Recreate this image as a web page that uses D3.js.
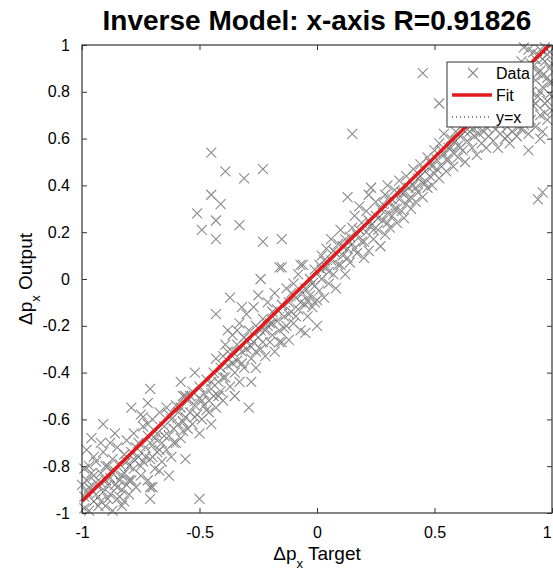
<!DOCTYPE html>
<html><head><meta charset="utf-8">
<script src="https://cdn.jsdelivr.net/npm/d3@7"></script>
<style>body{margin:0;background:#fff}svg{display:block}text{font-family:"Liberation Sans",Arial,Helvetica,sans-serif}</style>
</head><body><svg id="c" width="553" height="575"></svg>
<script>
const titleText = "Inverse Model: x-axis R=0.91826";
const xTicks = [-1, -0.5, 0, 0.5, 1];
const yTicks = [-1, -0.8, -0.6, -0.4, -0.2, 0, 0.2, 0.4, 0.6, 0.8, 1];
const fitLine = [[-1, -0.95], [1, 1.01]];
const identityLine = [[-1, -1], [1, 1]];
const legendLabels = ["Data", "Fit", "y=x"];

const dataA = [[-0.99,-0.93],[-0.98,-0.86],[-0.97,-0.99],[-0.97,-0.80],[-0.96,-0.90],[-0.95,-0.84],[-0.95,-0.95],[-0.94,-0.78],[-0.93,-0.88],[-0.93,-0.97],[-0.92,-0.83],[-0.91,-0.91],[-0.91,-0.74],[-0.90,-0.86],[-0.90,-0.97],[-0.89,-0.80],[-0.88,-0.92],[-0.88,-0.85],[-0.87,-0.77],[-0.87,-0.99],[-0.86,-0.88],[-0.86,-0.82],[-0.85,-0.94],[-0.85,-0.72],[-0.84,-0.86],[-0.84,-0.79],[-0.83,-0.90],[-0.83,-0.97],[-0.82,-0.83],[-0.82,-0.75],[-0.81,-0.88],[-0.81,-0.69],[-0.80,-0.80],[-0.80,-0.92],[-0.99,-0.81],[-0.98,-0.73],[-0.96,-0.68],[-0.94,-0.87],[-0.92,-0.70],[-0.89,-0.88],[-0.86,-0.66],[-0.84,-0.93],[-0.79,-0.86],[-0.97,-0.89],[-0.91,-0.62],
  [-1.00,-0.88],[-0.99,-0.98],[-0.98,-0.91],[-0.96,-0.83],[-0.95,-0.76],[-0.94,-0.92],[-0.92,-0.95],[-0.92,-0.87],[-0.90,-0.80],[-0.89,-0.94],[-0.88,-0.70],[-0.87,-0.83],[-0.85,-0.89],[-0.83,-0.84],[-0.82,-0.95],[-0.81,-0.78],[-0.80,-0.86]];
const dataB = [[-0.79,-0.74],[-0.78,-0.81],[-0.78,-0.66],[-0.77,-0.89],[-0.76,-0.76],[-0.76,-0.70],[-0.75,-0.84],[-0.74,-0.63],[-0.74,-0.78],[-0.73,-0.72],[-0.72,-0.86],[-0.72,-0.67],[-0.71,-0.77],[-0.70,-0.60],[-0.70,-0.71],[-0.69,-0.81],[-0.68,-0.66],[-0.68,-0.74],[-0.67,-0.57],[-0.66,-0.70],[-0.66,-0.78],[-0.65,-0.63],[-0.64,-0.73],[-0.64,-0.55],[-0.63,-0.67],[-0.62,-0.60],[-0.62,-0.76],[-0.61,-0.64],[-0.60,-0.70],[-0.60,-0.54],[-0.75,-0.58],[-0.71,-0.89],[-0.63,-0.84],[-0.79,-0.55],[-0.71,-0.47],[-0.56,-0.50],[-0.57,-0.65],[-0.67,-0.82],[-0.70,-0.89],[-0.71,-0.94],[-0.72,-0.53],[-0.74,-0.59],[-0.56,-0.77],[-0.50,-0.94],
  [-0.78,-0.77],[-0.77,-0.72],[-0.75,-0.80],[-0.73,-0.76],[-0.72,-0.62],[-0.70,-0.76],[-0.69,-0.68],[-0.67,-0.73],[-0.65,-0.67],[-0.63,-0.58],[-0.61,-0.70]];
const dataC = [[-0.59,-0.62],[-0.58,-0.55],[-0.58,-0.68],[-0.57,-0.50],[-0.56,-0.59],[-0.55,-0.64],[-0.55,-0.52],[-0.54,-0.57],[-0.53,-0.48],[-0.53,-0.62],[-0.52,-0.54],[-0.51,-0.58],[-0.50,-0.46],[-0.50,-0.51],[-0.49,-0.60],[-0.48,-0.49],[-0.48,-0.54],[-0.47,-0.43],[-0.46,-0.52],[-0.46,-0.57],[-0.45,-0.47],[-0.44,-0.40],[-0.44,-0.50],[-0.43,-0.55],[-0.42,-0.44],[-0.41,-0.48],[-0.41,-0.38],[-0.40,-0.52],[-0.52,-0.40],[-0.58,-0.44],[-0.50,-0.66],[-0.45,-0.62],[-0.43,-0.34],
  [-0.59,-0.57],[-0.57,-0.61],[-0.54,-0.50],[-0.52,-0.59],[-0.49,-0.52],[-0.47,-0.56],[-0.45,-0.44],[-0.42,-0.50]];
const dataD = [[-0.40,-0.33],[-0.39,-0.42],[-0.39,-0.28],[-0.38,-0.37],[-0.37,-0.46],[-0.37,-0.08],[-0.36,-0.31],[-0.36,-0.24],[-0.35,-0.40],[-0.34,-0.28],[-0.34,-0.35],[-0.33,-0.19],[-0.33,-0.44],[-0.32,-0.31],[-0.31,-0.25],[-0.31,-0.38],[-0.30,-0.15],[-0.30,-0.30],[-0.29,-0.55],[-0.29,-0.22],[-0.28,-0.34],[-0.27,-0.27],[-0.27,-0.12],[-0.26,-0.20],[-0.26,-0.38],[-0.25,-0.25],[-0.24,0.00],[-0.24,-0.30],[-0.23,-0.17],[-0.22,-0.22],[-0.22,-0.33],[-0.21,-0.10],[-0.20,-0.27],[-0.20,-0.19],[-0.43,-0.15],[-0.38,-0.22],[-0.35,-0.50],[-0.32,-0.12],[-0.28,-0.44],[-0.25,-0.07],
  [-0.40,-0.42],[-0.38,-0.31],[-0.36,-0.36],[-0.34,-0.22],[-0.32,-0.36],[-0.30,-0.26],[-0.28,-0.29],[-0.26,-0.31],[-0.24,-0.22],[-0.23,-0.27],[-0.21,-0.20]];
const dataE = [[-0.19,-0.14],[-0.19,-0.24],[-0.18,-0.06],[-0.18,-0.31],[-0.17,-0.18],[-0.16,0.05],[-0.16,-0.22],[-0.15,-0.11],[-0.15,-0.27],[-0.14,-0.16],[-0.13,-0.04],[-0.13,-0.20],[-0.12,-0.10],[-0.12,-0.26],[-0.11,-0.14],[-0.10,-0.02],[-0.10,-0.19],[-0.09,-0.08],[-0.08,-0.13],[-0.08,0.02],[-0.07,-0.22],[-0.06,-0.06],[-0.06,0.06],[-0.05,-0.23],[-0.05,-0.11],[-0.04,-0.16],[-0.03,0.00],[-0.03,-0.07],[-0.02,-0.12],[-0.01,0.04],[-0.01,-0.03],[0.00,-0.20],[0.00,-0.09],
  [-0.19,-0.19],[-0.17,-0.13],[-0.16,-0.27],[-0.14,-0.21],[-0.12,-0.15],[-0.11,-0.06],[-0.09,-0.16],[-0.07,-0.10],[-0.05,-0.04],[-0.04,-0.09],[-0.02,-0.02],[-0.01,-0.10]];
const dataF = [[0.01,0.06],[0.01,-0.05],[0.02,0.10],[0.02,0.00],[0.03,-0.08],[0.04,0.05],[0.04,0.13],[0.05,-0.02],[0.06,0.08],[0.06,0.17],[0.07,0.02],[0.08,0.11],[0.08,-0.04],[0.09,0.15],[0.10,0.06],[0.10,0.21],[0.11,0.10],[0.12,0.02],[0.12,0.17],[0.13,0.35],[0.13,0.13],[0.14,0.07],[0.15,0.22],[0.15,0.15],[0.16,0.27],[0.17,0.11],[0.17,0.19],[0.18,0.31],[0.19,0.16],[0.19,0.24],[0.20,0.09],[0.21,0.20],[0.21,0.29],[0.22,0.12],[0.22,0.36],[0.23,0.39],[0.23,0.23],[0.24,0.17],[0.25,0.27],[0.25,0.33],[0.26,0.21],[0.27,0.30],[0.27,0.14],[0.28,0.25],[0.29,0.36],[0.29,0.19],[0.30,0.28],[0.30,0.40],
  [0.02,0.04],[0.03,0.08],[0.05,0.03],[0.07,0.12],[0.09,0.06],[0.11,0.14],[0.13,0.09],[0.14,0.18],[0.16,0.13],[0.18,0.21],[0.20,0.16],[0.22,0.25],[0.24,0.21],[0.26,0.26],[0.28,0.32],[0.30,0.24]];
const dataG = [[0.31,0.22],[0.31,0.33],[0.32,0.27],[0.33,0.38],[0.33,0.30],[0.34,0.24],[0.35,0.34],[0.35,0.42],[0.36,0.29],[0.37,0.37],[0.37,0.26],[0.38,0.32],[0.38,0.44],[0.39,0.39],[0.40,0.30],[0.40,0.35],[0.41,0.47],[0.41,0.40],[0.42,0.33],[0.43,0.43],[0.43,0.37],[0.44,0.49],[0.45,0.41],[0.45,0.35],[0.46,0.46],[0.47,0.39],[0.47,0.52],[0.48,0.44],[0.49,0.48],[0.49,0.40],[0.50,0.55],[0.50,0.45],[0.51,0.51],[0.52,0.43],[0.52,0.58],[0.53,0.48],[0.54,0.53],[0.54,0.62],[0.55,0.46],[0.56,0.56],[0.56,0.51],[0.57,0.60],[0.58,0.54],[0.58,0.48],[0.59,0.63],[0.60,0.57],[0.60,0.52],[0.45,0.88],[0.52,0.75],[0.15,0.62],
  [0.32,0.34],[0.34,0.30],[0.36,0.37],[0.39,0.34],[0.42,0.39],[0.44,0.44],[0.46,0.41],[0.48,0.50],[0.51,0.47],[0.53,0.55],[0.55,0.51],[0.57,0.56],[0.59,0.59]];
const dataH = [[0.61,0.61],[0.62,0.55],[0.62,0.66],[0.63,0.50],[0.64,0.59],[0.65,0.63],[0.65,0.68],[0.66,0.56],[0.67,0.61],[0.68,0.65],[0.68,0.53],[0.69,0.70],[0.70,0.58],[0.71,0.63],[0.71,0.67],[0.72,0.56],[0.73,0.61],[0.74,0.66],[0.74,0.72],[0.75,0.59],[0.76,0.64],[0.77,0.56],[0.77,0.69],[0.78,0.62],[0.79,0.67],[0.80,0.60],[0.80,0.74],[0.81,0.65],[0.82,0.58],[0.82,0.70],[0.83,0.63],[0.84,0.67],[0.84,0.78],[0.85,0.61],
  [0.61,0.56],[0.63,0.63],[0.66,0.64],[0.69,0.62],[0.72,0.65],[0.75,0.68],[0.78,0.66],[0.81,0.61],[0.83,0.72]];
const dataI = [[0.86,0.70],[0.86,0.84],[0.87,0.64],[0.87,0.93],[0.88,0.76],[0.88,0.66],[0.89,0.88],[0.89,0.72],[0.90,0.98],[0.90,0.62],[0.91,0.80],[0.91,0.68],[0.92,0.91],[0.92,0.74],[0.93,0.85],[0.93,0.65],[0.94,0.96],[0.94,0.78],[0.94,0.34],[0.95,0.70],[0.95,0.89],[0.96,0.82],[0.96,0.37],[0.96,0.63],[0.97,0.93],[0.97,0.75],[0.98,0.86],[0.98,0.68],[0.99,0.97],[0.99,0.79],[0.99,0.90],[1.00,0.72],[1.00,0.84],[0.97,0.99],[0.92,0.97],[0.88,0.99],[0.95,0.60],[0.90,0.55],
  [0.86,0.65],[0.87,0.78],[0.89,0.68],[0.90,0.85],[0.91,0.92],[0.93,0.75],[0.94,0.88],[0.95,0.80],[0.96,0.94],[0.97,0.71],[0.98,0.96],[0.99,0.84],[1.00,0.92],[1.00,0.78],[0.98,0.76],[0.96,0.87],[0.95,0.98],[0.93,0.94]];
const outliersUL = [[-0.45,0.54],[-0.39,0.46],[-0.31,0.43],[-0.23,0.47],[-0.45,0.36],[-0.41,0.32],[-0.51,0.28],[-0.43,0.25],[-0.49,0.21],[-0.43,0.17],[-0.33,0.23],[-0.23,0.16],[-0.15,0.17],[-0.15,0.05],[-0.07,0.06]];

const points = [].concat(dataA, dataB, dataC, dataD, dataE, dataF, dataG, dataH, dataI, outliersUL);

const m = {l: 82, r: 552, t: 45, b: 513};
const x = d3.scaleLinear().domain([-1, 1]).range([m.l, m.r]);
const y = d3.scaleLinear().domain([-1, 1]).range([m.b, m.t]);
const fmt = d => (Math.abs(d) < 1e-9 ? "0" : String(+d.toFixed(1)));

const svg = d3.select("#c");
const grey = "#8a8a8a";
const s = 5;

// data markers
svg.append("g").selectAll("path.pt").data(points).join("path")
  .attr("class", "pt")
  .attr("d", d => {
    const cx = x(d[0]), cy = y(d[1]);
    return `M${cx-s},${cy-s}L${cx+s},${cy+s}M${cx-s},${cy+s}L${cx+s},${cy-s}`;
  })
  .attr("stroke", grey).attr("stroke-width", 1.1).attr("fill", "none");

// clip for lines
svg.append("clipPath").attr("id", "pc").append("rect")
  .attr("x", m.l).attr("y", m.t).attr("width", m.r - m.l).attr("height", m.b - m.t);
const line = d3.line().x(d => x(d[0])).y(d => y(d[1]));
svg.append("path").datum(fitLine).attr("d", line).attr("clip-path", "url(#pc)")
  .attr("stroke", "#e31a1c").attr("stroke-width", 3.5).attr("fill", "none");
svg.append("path").datum(identityLine).attr("d", line).attr("clip-path", "url(#pc)")
  .attr("stroke", "#111").attr("stroke-width", 1).attr("stroke-dasharray", "1,3").attr("fill", "none");

// axes
const axisColor = "#333";
const ax = svg.append("g").attr("transform", `translate(0,${m.b})`)
  .call(d3.axisBottom(x).tickValues(xTicks).tickFormat(fmt).tickSizeInner(-5).tickSizeOuter(0).tickPadding(14));
const axT = svg.append("g").attr("transform", `translate(0,${m.t})`)
  .call(d3.axisTop(x).tickValues(xTicks).tickFormat("").tickSizeInner(-5).tickSizeOuter(0));
const ay = svg.append("g").attr("transform", `translate(${m.l},0)`)
  .call(d3.axisLeft(y).tickValues(yTicks).tickFormat(fmt).tickSizeInner(-5).tickSizeOuter(0).tickPadding(12));
const ayR = svg.append("g").attr("transform", `translate(${m.r},0)`)
  .call(d3.axisRight(y).tickValues(yTicks).tickFormat("").tickSizeInner(-5).tickSizeOuter(0));
[ax, axT, ay, ayR].forEach(a => {
  a.select(".domain").remove();
  a.selectAll("line").attr("stroke", axisColor);
  a.selectAll("text").attr("fill", "#000").style("font-size", "16px");
});
// keep the last x tick label inside the picture
ax.selectAll(".tick text").filter(d => d === 1).attr("text-anchor", "end").attr("dx", "-0.05em");
svg.append("rect").attr("x", m.l).attr("y", m.t).attr("width", m.r - m.l).attr("height", m.b - m.t)
  .attr("fill", "none").attr("stroke", axisColor).attr("stroke-width", 1.2);

// title
svg.append("text").attr("x", (m.l + m.r) / 2).attr("y", 30).attr("text-anchor", "middle")
  .style("font-size", "28px").style("font-weight", "bold").text(titleText);

// axis labels
const xl = svg.append("text").attr("x", (m.l + m.r) / 2).attr("y", 560).attr("text-anchor", "middle").style("font-size", "19px");
xl.append("tspan").text("Δp");
xl.append("tspan").attr("baseline-shift", "sub").style("font-size", "13px").text("x");
xl.append("tspan").text(" Target");
const yl = svg.append("text").attr("transform", `translate(32,${(m.t + m.b) / 2}) rotate(-90)`).attr("text-anchor", "middle").style("font-size", "19px");
yl.append("tspan").text("Δp");
yl.append("tspan").attr("baseline-shift", "sub").style("font-size", "13px").text("x");
yl.append("tspan").text(" Output");

// legend
const lg = svg.append("g");
lg.append("rect").attr("x", 447).attr("y", 62).attr("width", 86).attr("height", 65)
  .attr("fill", "#fff").attr("stroke", axisColor).attr("stroke-width", 1);
const rows = [73, 95, 117];
const lx = 473;
lg.append("path").attr("d", `M${lx-s},${rows[0]-s}L${lx+s},${rows[0]+s}M${lx-s},${rows[0]+s}L${lx+s},${rows[0]-s}`)
  .attr("stroke", grey).attr("stroke-width", 1.1);
lg.append("line").attr("x1", 452).attr("x2", 492).attr("y1", rows[1]).attr("y2", rows[1])
  .attr("stroke", "#e31a1c").attr("stroke-width", 3.5);
lg.append("line").attr("x1", 452).attr("x2", 492).attr("y1", rows[2]).attr("y2", rows[2])
  .attr("stroke", "#111").attr("stroke-width", 1).attr("stroke-dasharray", "1,3");
lg.selectAll("text.lt").data(legendLabels).join("text").attr("class", "lt")
  .attr("x", 496).attr("y", (d, i) => rows[i]).attr("dy", "0.35em")
  .style("font-size", "16px").text(d => d);
</script></body></html>
